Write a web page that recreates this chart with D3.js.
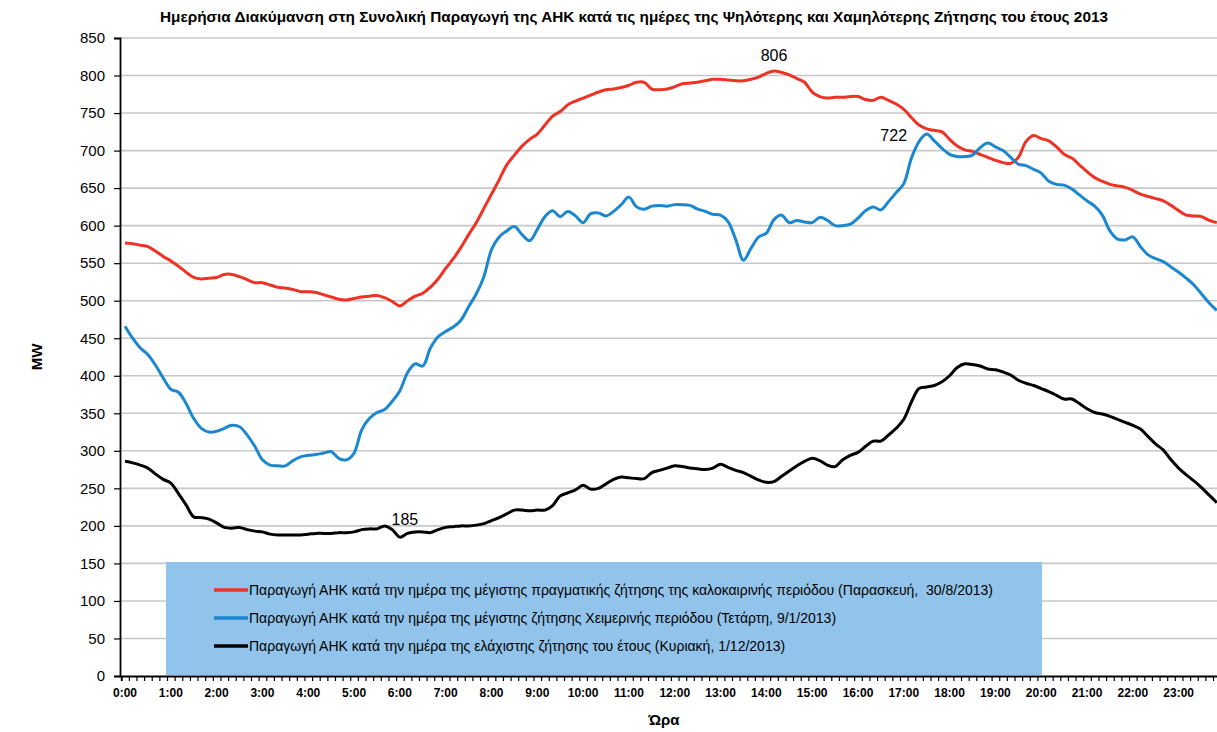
<!DOCTYPE html>
<html><head><meta charset="utf-8">
<script src="https://cdn.jsdelivr.net/npm/d3@7/dist/d3.min.js"></script>
<style>
body{margin:0;background:#fff;}
svg{display:block;font-family:"Liberation Sans",Arial,sans-serif;}
text{white-space:pre;}
</style></head>
<body><svg id="c" width="1217" height="732"></svg>
<script>
const title = "Ημερήσια Διακύμανση στη Συνολική Παραγωγή της ΑΗΚ κατά τις ημέρες της Ψηλότερης και Χαμηλότερης Ζήτησης του έτους 2013";
const hourLabels = ["0:00","1:00","2:00","3:00","4:00","5:00","6:00","7:00","8:00","9:00","10:00","11:00","12:00","13:00","14:00","15:00","16:00","17:00","18:00","19:00","20:00","21:00","22:00","23:00"];
const minuteLabels = ["00","10","20","30","40","50"];
const yTicks = [0,50,100,150,200,250,300,350,400,450,500,550,600,650,700,750,800,850];
const seriesNames = [
 "Παραγωγή ΑΗΚ κατά την ημέρα της μέγιστης πραγματικής ζήτησης της καλοκαιρινής περιόδου (Παρασκευή,  30/8/2013)",
 "Παραγωγή ΑΗΚ κατά την ημέρα της μέγιστης ζήτησης Χειμερινής περιόδου (Τετάρτη, 9/1/2013)",
 "Παραγωγή ΑΗΚ κατά την ημέρα της ελάχιστης ζήτησης του έτους (Κυριακή, 1/12/2013)"
];
const summerMax = [577,576,574,572,566,559,553,546,538,531,529,530,531,535,535,532,528,524,524,521,518,517,515,512,512,511,508,505,502,501,503,505,506,507,504,499,
 493,500,506,510,518,529,543,556,571,588,604,623,642,661,681,694,706,715,722,734,746,752,761,766,770,774,778,781,782,784,787,791,791,782,781,782,
 785,789,790,791,793,795,795,794,793,793,795,798,803,806,804,801,796,791,778,772,770,771,771,772,772,768,767,771,767,762,755,744,734,729,727,
 725,715,706,701,699,695,691,687,684,683,691,712,720,716,713,705,695,690,681,672,664,659,655,653,651,647,642,639,636,633,627,620,614,613,612,607,604];
const winterMax = [466,450,437,428,414,397,382,378,363,343,330,325,326,330,334,332,321,306,288,281,280,280,287,292,294,295,297,299,290,288,297,328,343,351,355,366,
 380,404,416,413,437,452,459,465,474,492,509,532,568,585,593,599,588,580,595,612,620,612,619,613,604,616,617,613,619,628,638,625,622,626,627,626,
 628,628,627,622,619,615,614,605,581,554,570,585,590,608,614,604,607,605,604,611,607,600,600,602,610,620,625,621,632,644,656,690,712,722,713,
 703,695,692,692,694,704,710,705,700,691,682,680,675,670,659,655,654,649,641,633,626,614,593,582,581,585,572,561,556,552,545,538,530,521,509,497,487];
const yearMin = [286,284,281,277,269,262,257,243,228,212,211,209,204,198,197,198,195,193,192,189,188,188,188,188,189,190,190,190,191,191,192,195,196,196,200,195,
 185,190,192,192,191,195,198,199,200,200,201,203,207,211,216,221,221,220,221,221,227,240,244,248,254,249,250,256,262,265,264,263,263,271,274,277,
 280,279,277,276,275,277,282,278,274,271,266,261,258,259,266,273,280,286,290,287,281,279,288,294,298,306,313,313,321,330,342,365,383,385,387,
 392,400,411,416,415,413,409,408,405,401,394,390,387,383,379,374,369,369,363,356,351,349,346,342,338,334,329,319,309,301,288,277,268,260,251,241,231];
const peakLabels = [[0,85,"806"],[1,105,"722"],[2,36,"185"]];
const colors = ["#ee3224","#1b87cf","#000000"];

const categories = [];
hourLabels.forEach(h => minuteLabels.forEach(m => categories.push(h.split(":")[0] + ":" + m)));
const series = [summerMax, winterMax, yearMin];

const svg = d3.select("#c");
svg.append("rect").attr("width",1217).attr("height",732).attr("fill","#fff");

const x0 = 121.2, x1 = 121.2 + 144*7.635;
const x = d3.scaleBand().domain(categories).range([x0, x1]).padding(0);
const xc = d => x(d) + x.bandwidth()/2;
const xl = d3.scaleLinear().domain([0,144]).range([x0,x1]);
const y = d3.scaleLinear().domain([0,850]).range([676,38]);
const axisX = 120;

// title
svg.append("text").attr("x",160).attr("y",22)
  .attr("font-weight","bold").attr("font-size",14)
  .attr("textLength",948).attr("lengthAdjust","spacingAndGlyphs").text(title);

// gridlines
svg.append("g").selectAll("line").data(yTicks.filter(v=>v>0)).join("line")
  .attr("x1",axisX).attr("x2",1217).attr("y1",d=>y(d)).attr("y2",d=>y(d))
  .attr("stroke","#c8c8c8").attr("stroke-width",1.6);

// legend box
svg.append("rect").attr("x",166).attr("y",562).attr("width",876).attr("height",113).attr("fill","#92c4eb");

// y axis
const gy = svg.append("g").attr("transform",`translate(${axisX},0)`)
  .call(d3.axisLeft(y).tickValues(yTicks).tickSize(6).tickPadding(9).tickFormat(d3.format("d")));
gy.select(".domain").attr("stroke","#000").attr("stroke-width",1.8);
gy.selectAll(".tick line").attr("stroke","#000").attr("stroke-width",1.2);
gy.selectAll(".tick text").attr("font-size",15).attr("font-family","Liberation Sans,Arial,sans-serif").attr("fill","#000");

// x axis minor ticks
const gx = svg.append("g").attr("transform","translate(0,676)")
  .call(d3.axisBottom(xl).tickValues(d3.range(145)).tickSize(5).tickFormat(""));
gx.select(".domain").attr("stroke","#000").attr("stroke-width",1.8);
gx.selectAll(".tick line").attr("stroke","#000").attr("stroke-width",1.2);

// x axis labels
const gxl = svg.append("g").attr("transform","translate(0,676)")
  .call(d3.axisBottom(x).tickValues(categories.filter((c,i)=>i%6===0)).tickSize(0).tickPadding(12)
     .tickFormat(c => hourLabels[categories.indexOf(c)/6]));
gxl.select(".domain").remove();
gxl.selectAll(".tick text").attr("font-size",12).attr("font-weight","bold").attr("font-family","Liberation Sans,Arial,sans-serif").attr("fill","#000");

// axis titles
svg.append("text").attr("transform","translate(42,357) rotate(-90)").attr("text-anchor","middle")
  .attr("font-weight","bold").attr("font-size",15).text("MW");
svg.append("text").attr("x",664).attr("y",725).attr("text-anchor","middle")
  .attr("font-weight","bold").attr("font-size",15).text("Ώρα");

// lines
const line = d3.line().x((d,i)=>xc(categories[i])).y(d=>y(d)).curve(d3.curveCatmullRom.alpha(0.5));
series.forEach((s,k)=>{
  svg.append("path").datum(s).attr("d",line).attr("fill","none")
    .attr("stroke",colors[k]).attr("stroke-width",3).attr("stroke-linejoin","round");
});

// data labels
const lblOffset = [[0,-10],[-33,7],[5,-12]];
peakLabels.forEach(([k,i,t])=>{
  svg.append("text").attr("x",xc(categories[i])+lblOffset[k][0]).attr("y",y(series[k][i])+lblOffset[k][1])
    .attr("text-anchor","middle").attr("font-size",16).attr("fill","#000").text(t);
});

// legend
const lg = svg.append("g");
seriesNames.forEach((n,k)=>{
  const yy = 590 + k*28;
  lg.append("line").attr("x1",214).attr("x2",248).attr("y1",yy).attr("y2",yy)
    .attr("stroke",colors[k]).attr("stroke-width",3.5);
  lg.append("text").attr("x",249).attr("y",yy+5).attr("font-size",14).attr("fill","#000").text(n);
});
</script></body></html>
